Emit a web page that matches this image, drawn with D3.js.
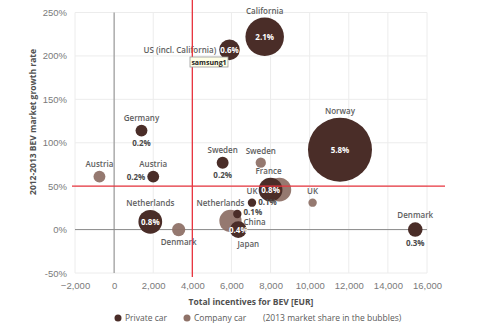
<!DOCTYPE html>
<html>
<head>
<meta charset="utf-8">
<script src="https://cdn.jsdelivr.net/npm/d3@7"></script>
<style>
  html, body { margin: 0; padding: 0; background: #fff; }
  svg { display: block; font-family: 'Open Sans', sans-serif; }
  .tick text { fill: #7a7a7a; font-size: 9.5px; }
  .label { fill: #5e5e5e; font-size: 8px; font-weight: 600; }
  .share { fill: #4a4a4a; font-size: 8px; font-weight: 700; }
  .share-in { fill: #fff; font-size: 8px; font-weight: 700; }
</style>
</head>
<body>
<div class="chart"></div>
<script>
// private car bubbles
const privateNames = ['California', 'US (incl. California)', 'Germany', 'Austria', 'Netherlands', 'Sweden', 'France', 'UK', 'China', 'Japan', 'Norway', 'Denmark'];
const privateIncentive = [7700, 5900, 1400, 2000, 1850, 5550, 8000, 7050, 6300, 6350, 11550, 15400];
const privateGrowth = [222, 207, 114, 61, 9, 77, 46, 31, 18, 0, 92, 0];
const privateShare = [2.1, 0.6, 0.2, 0.2, 0.8, 0.2, 0.8, 0.1, 0.1, 0.4, 5.8, 0.3];

// company car bubbles
const companyNames = ['Austria', 'Denmark', 'Sweden', 'France', 'UK', 'Netherlands'];
const companyIncentive = [-750, 3300, 7500, 8450, 10150, 5950];
const companyGrowth = [61, 0, 77, 46, 31, 10];
const companyShare = [0.2, 0.25, 0.15, 0.8, 0.1, 0.7];

const xTicks = [-2000, 0, 2000, 4000, 6000, 8000, 10000, 12000, 14000, 16000];
const yTicks = [-50, 0, 50, 100, 150, 200, 250];
const incentiveLine = 4000;
const growthLine = 50;

const w = 500;
const h = 333;
const margin = { top: 12.5, right: 73, bottom: 60, left: 75 };

const privateColor = '#4a2d28';
const companyColor = '#8f7268';

function displayChart() {
  const svg = d3.select('.chart')
    .append('svg')
    .attr('width', w)
    .attr('height', h);

  const xScale = d3.scaleLinear()
    .domain([-2000, 16000])
    .range([margin.left, w - margin.right]);
  const yScale = d3.scaleLinear()
    .domain([-50, 250])
    .range([h - margin.bottom, margin.top]);
  const rScale = d3.scaleSqrt()
    .domain([0, 5.8])
    .range([0, 32]);

  // light grid
  svg.append('g')
    .selectAll('line')
    .data(xTicks)
    .enter()
    .append('line')
    .attr('x1', d => xScale(d))
    .attr('x2', d => xScale(d))
    .attr('y1', yScale(250))
    .attr('y2', yScale(-50))
    .attr('stroke', '#ececec');
  svg.append('g')
    .selectAll('line')
    .data(yTicks)
    .enter()
    .append('line')
    .attr('x1', xScale(-2000))
    .attr('x2', xScale(16000))
    .attr('y1', d => yScale(d))
    .attr('y2', d => yScale(d))
    .attr('stroke', '#ececec');

  // zero lines
  svg.append('line')
    .attr('x1', xScale(0)).attr('x2', xScale(0))
    .attr('y1', yScale(250)).attr('y2', yScale(-50))
    .attr('stroke', '#8a8a8a').attr('stroke-width', 1);
  svg.append('line')
    .attr('x1', xScale(-2000)).attr('x2', xScale(16000))
    .attr('y1', yScale(0)).attr('y2', yScale(0))
    .attr('stroke', '#8a8a8a').attr('stroke-width', 1);

  // axes (labels only)
  svg.append('g')
    .attr('class', 'x-axis')
    .attr('transform', `translate(0, ${yScale(-50) + 6})`)
    .call(d3.axisBottom(xScale).tickValues(xTicks).tickSize(0).tickFormat(d3.format(',')));
  svg.append('g')
    .attr('class', 'y-axis')
    .attr('transform', `translate(${margin.left - 5}, 0)`)
    .call(d3.axisLeft(yScale).tickValues(yTicks).tickSize(0).tickFormat(d => d + '%'));
  svg.selectAll('.domain').remove();
  svg.selectAll('.tick text').attr('font-family', null);

  svg.append('text')
    .attr('x', (xScale(-2000) + xScale(16000)) / 2)
    .attr('y', 305)
    .attr('text-anchor', 'middle')
    .attr('fill', '#505050')
    .attr('font-size', '8.5px')
    .attr('font-weight', 700)
    .text('Total incentives for BEV [EUR]');

  svg.append('text')
    .attr('transform', 'rotate(-90)')
    .attr('x', -122)
    .attr('y', 36)
    .attr('text-anchor', 'middle')
    .attr('fill', '#505050')
    .attr('font-size', '8.5px')
    .attr('font-weight', 700)
    .text('2012-2013 BEV market growth rate');

  const privateData = privateNames.map((name, i) => ({
    name, type: 'private', x: privateIncentive[i], y: privateGrowth[i], share: privateShare[i]
  }));
  const companyData = companyNames.map((name, i) => ({
    name, type: 'company', x: companyIncentive[i], y: companyGrowth[i], share: companyShare[i]
  }));

  // company bubbles sit behind the private ones
  svg.append('g')
    .selectAll('circle')
    .data(companyData)
    .enter()
    .append('circle')
    .attr('cx', d => xScale(d.x))
    .attr('cy', d => yScale(d.y))
    .attr('r', d => rScale(d.share))
    .attr('fill', companyColor)
    .attr('fill-opacity', 0.95);

  svg.append('g')
    .selectAll('circle')
    .data(privateData)
    .enter()
    .append('circle')
    .attr('cx', d => xScale(d.x))
    .attr('cy', d => yScale(d.y))
    .attr('r', d => rScale(d.share))
    .attr('fill', privateColor);

  // name label placement: side of the bubble and a horizontal nudge
  const nameLayout = {
    'private:California': ['up', 0],
    'private:US (incl. California)': ['left', 0],
    'private:Germany': ['up', 0],
    'private:Austria': ['up', 0],
    'private:Netherlands': ['up', 0],
    'private:Sweden': ['up', 0],
    'private:France': ['up', -2],
    'private:UK': ['up', 0],
    'private:China': ['right', 0],
    'private:Japan': ['down', 10],
    'private:Norway': ['up', 0],
    'private:Denmark': ['up', 0],
    'company:Austria': ['up', 0],
    'company:Denmark': ['down', 0],
    'company:Sweden': ['up', 0],
    'company:France': ['none', 0],
    'company:UK': ['up', 0],
    'company:Netherlands': ['up', -10]
  };
  // share label placement for bubbles too small to hold it
  const shareLayout = {
    'Germany': 'down',
    'Austria': 'left',
    'Sweden': 'down',
    'UK': 'tiny',
    'China': 'right',
    'Denmark': 'down'
  };

  const labels = svg.append('g');
  companyData.concat(privateData).forEach(d => {
    const cx = xScale(d.x);
    const cy = yScale(d.y);
    const r = rScale(d.share);
    const [pos, shift] = nameLayout[`${d.type}:${d.name}`];
    if (pos === 'up') {
      labels.append('text').attr('class', 'label')
        .attr('x', cx + shift).attr('y', cy - r - 4)
        .attr('text-anchor', 'middle').text(d.name);
    } else if (pos === 'down') {
      labels.append('text').attr('class', 'label')
        .attr('x', cx + shift).attr('y', cy + r + 9)
        .attr('text-anchor', 'middle').text(d.name);
    } else if (pos === 'left') {
      labels.append('text').attr('class', 'label')
        .attr('x', cx - r - 3).attr('y', cy + 3)
        .attr('text-anchor', 'end').text(d.name);
    } else if (pos === 'right') {
      labels.append('text').attr('class', 'label')
        .attr('x', cx + r + 2).attr('y', cy + 11)
        .attr('text-anchor', 'start').text(d.name);
    }

    if (d.type !== 'private') return;
    const txt = d.share + '%';
    const place = shareLayout[d.name];
    if (!place) {
      labels.append('text').attr('class', 'share-in')
        .attr('x', cx).attr('y', cy + 3)
        .attr('text-anchor', 'middle')
        .attr('font-size', d.name === 'Japan' ? '6.5px' : null)
        .text(txt);
    } else if (place === 'down') {
      labels.append('text').attr('class', 'share')
        .attr('x', cx).attr('y', cy + r + 9)
        .attr('text-anchor', 'middle').text(txt);
    } else if (place === 'left') {
      labels.append('text').attr('class', 'share')
        .attr('x', cx - r - 2).attr('y', cy + 3)
        .attr('text-anchor', 'end').text(txt);
    } else if (place === 'right') {
      labels.append('text').attr('class', 'share')
        .attr('x', cx + r + 2).attr('y', cy + 1)
        .attr('text-anchor', 'start').text(txt);
    } else if (place === 'tiny') {
      labels.append('text').attr('class', 'share')
        .attr('x', cx + r + 2).attr('y', cy + 2)
        .attr('font-size', '5px')
        .attr('text-anchor', 'start').text(txt);
    }
  });

  // quadrant split lines
  svg.append('line')
    .attr('x1', xScale(incentiveLine)).attr('x2', xScale(incentiveLine))
    .attr('y1', 0).attr('y2', yScale(-50) + 4)
    .attr('stroke', '#e8343e').attr('stroke-width', 1.3);
  svg.append('line')
    .attr('x1', margin.left - 3).attr('x2', 445)
    .attr('y1', yScale(growthLine)).attr('y2', yScale(growthLine))
    .attr('stroke', '#e8343e').attr('stroke-width', 1.3);

  // legend
  const legend = svg.append('g').attr('transform', 'translate(0, 318)');
  [['Private car', privateColor, 118], ['Company car', companyColor, 187]].forEach(([name, color, x]) => {
    legend.append('circle').attr('cx', x).attr('cy', 0).attr('r', 3.5).attr('fill', color);
    legend.append('text').attr('x', x + 7).attr('y', 3)
      .attr('fill', '#5a5a5a').attr('font-size', '8.5px').text(name);
  });
  legend.append('text').attr('x', 263).attr('y', 3)
    .attr('fill', '#5a5a5a').attr('font-size', '8.5px')
    .text('(2013 market share in the bubbles)');

  // hover tag left on the chart
  const tag = svg.append('g').attr('transform', 'translate(190, 57)');
  tag.append('rect').attr('width', 38).attr('height', 10)
    .attr('fill', '#ffffe6').attr('stroke', '#9a9a9a').attr('stroke-width', 0.8);
  tag.append('text').attr('x', 19).attr('y', 7.5)
    .attr('text-anchor', 'middle').attr('font-size', '7px').attr('font-weight', 700)
    .attr('fill', '#222').text('samsung1');
}

displayChart();
</script>
</body>
</html>
